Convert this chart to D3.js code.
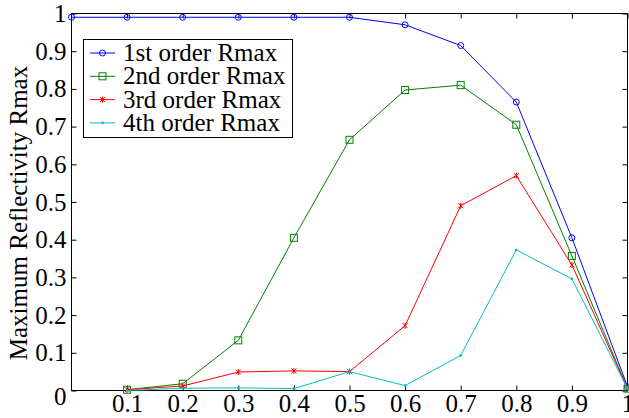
<!DOCTYPE html>
<html>
<head>
<meta charset="utf-8">
<script src="https://cdn.jsdelivr.net/npm/d3@7"></script>
<style>
  body { margin: 0; background: #fff; }
  svg { display: block; }
  text { font-family: "Liberation Serif", "Times New Roman", serif; fill: #000; }
</style>
</head>
<body>
<div class="chart"></div>
<script>
const WIDTH = 629;
const HEIGHT = 418;

// wavelength ratio on x, one value per point
var xValues = [0, 0.1, 0.2, 0.3, 0.4, 0.5, 0.6, 0.7, 0.8, 0.9, 1];

// null where the series has no point
var order1 = [0.99, 0.99, 0.99, 0.99, 0.99, 0.99, 0.97, 0.915, 0.765, 0.405, 0.01];
var order2 = [null, 0.002, 0.018, 0.133, 0.405, 0.665, 0.797, 0.81, 0.705, 0.357, 0.005];
var order3 = [null, 0.002, 0.012, 0.049, 0.052, 0.05, 0.172, 0.49, 0.57, 0.333, 0.005];
var order4 = [null, 0.0, 0.006, 0.007, 0.005, 0.05, 0.013, 0.093, 0.373, 0.296, 0.005];

var seriesNames = ["1st order Rmax", "2nd order Rmax", "3rd order Rmax", "4th order Rmax"];
var seriesColors = ["#0000ff", "#008000", "#ff0000", "#00bfbf"];
var seriesMarkers = ["circle", "square", "cross", "dot"];

var xTickLabels = ["0.1", "0.2", "0.3", "0.4", "0.5", "0.6", "0.7", "0.8", "0.9", "1"];
var yTickLabels = ["0", "0.1", "0.2", "0.3", "0.4", "0.5", "0.6", "0.7", "0.8", "0.9", "1"];

var pLeft = 71.5, pRight = 627.5, pTop = 13.5, pBottom = 390.5;
var FONT = "25px";

var translate = function (x, y) {
    return "translate(" + x + "," + y + ")";
};

var svg = d3.select('.chart').append('svg')
    .attr('width', WIDTH)
    .attr('height', HEIGHT);

var x = d3.scaleLinear().domain([0, 1]).range([pLeft, pRight]);
var y = d3.scaleLinear().domain([0, 1]).range([pBottom, pTop]);

var xTicks = xTickLabels.map(Number);
var yTicks = yTickLabels.map(Number);

// axes with inward ticks on all four sides
var fmt = function (d) { return String(d); };
var tickLen = 5;

svg.append("g").attr("class", "xaxis").attr("transform", translate(0, pBottom))
    .call(d3.axisBottom(x).tickValues(xTicks).tickSize(-tickLen).tickPadding(4).tickFormat(fmt));
svg.append("g").attr("transform", translate(0, pTop))
    .call(d3.axisTop(x).tickValues(xTicks).tickSize(-tickLen).tickFormat(""));
svg.append("g").attr("class", "yaxis").attr("transform", translate(pLeft, 0))
    .call(d3.axisLeft(y).tickValues(yTicks).tickSize(-tickLen).tickPadding(5).tickFormat(fmt));
svg.append("g").attr("transform", translate(pRight, 0))
    .call(d3.axisRight(y).tickValues(yTicks).tickSize(-tickLen).tickFormat(""));

svg.selectAll(".domain").remove();
svg.selectAll(".tick line").attr("stroke", "#000");
svg.selectAll(".tick text")
    .attr("fill", "#000")
    .style("font-size", FONT)
    .style("font-family", "Liberation Serif, serif");

// the zero label sits a bit low, in the corner
svg.select(".yaxis").selectAll(".tick text")
    .filter(function (d) { return d === 0; })
    .attr("dy", "0.55em");

svg.append("rect")
    .attr("x", pLeft).attr("y", pTop)
    .attr("width", pRight - pLeft).attr("height", pBottom - pTop)
    .attr("fill", "none").attr("stroke", "#000").attr("stroke-width", 1);

// y-axis title
svg.append("text")
    .attr("transform", translate(27, 213) + " rotate(-90)")
    .attr("text-anchor", "middle")
    .style("font-size", FONT)
    .text("Maximum Reflectivity Rmax");

var drawMarker = function (g, type, color) {
    if (type === "circle") {
        g.append("circle").attr("r", 3).attr("fill", "none").attr("stroke", color);
    } else if (type === "square") {
        g.append("rect").attr("x", -3.5).attr("y", -3.5).attr("width", 7).attr("height", 7)
            .attr("fill", "none").attr("stroke", color);
    } else if (type === "cross") {
        g.append("path").attr("d", "M-2.5,-2.5L2.5,2.5M-2.5,2.5L2.5,-2.5M0,-3L0,3")
            .attr("stroke", color).attr("fill", "none");
    } else {
        g.append("circle").attr("r", 1.3).attr("fill", color);
    }
};

var allSeries = [order1, order2, order3, order4];

var line = d3.line()
    .defined(function (d) { return d.v !== null; })
    .x(function (d) { return x(d.x); })
    .y(function (d) { return y(d.v); });

allSeries.forEach(function (vals, i) {
    var pts = vals.map(function (v, j) { return { x: xValues[j], v: v }; });
    svg.append("path")
        .datum(pts)
        .attr("d", line)
        .attr("fill", "none")
        .attr("stroke", seriesColors[i])
        .attr("stroke-width", 1);
    pts.filter(function (d) { return d.v !== null; }).forEach(function (d) {
        var g = svg.append("g").attr("transform", translate(x(d.x), y(d.v)));
        drawMarker(g, seriesMarkers[i], seriesColors[i]);
    });
});

// legend
var legend = svg.append("g");
legend.append("rect")
    .attr("x", 83.5).attr("y", 39.5)
    .attr("width", 209).attr("height", 98)
    .attr("fill", "#fff").attr("stroke", "#000");

seriesNames.forEach(function (name, i) {
    var ly = 53 + i * 23.3;
    legend.append("line")
        .attr("x1", 90).attr("x2", 115).attr("y1", ly).attr("y2", ly)
        .attr("stroke", seriesColors[i]);
    drawMarker(legend.append("g").attr("transform", translate(102.5, ly)), seriesMarkers[i], seriesColors[i]);
    legend.append("text")
        .attr("x", 123).attr("y", ly + 8)
        .style("font-size", FONT)
        .text(name);
});
</script>
</body>
</html>
